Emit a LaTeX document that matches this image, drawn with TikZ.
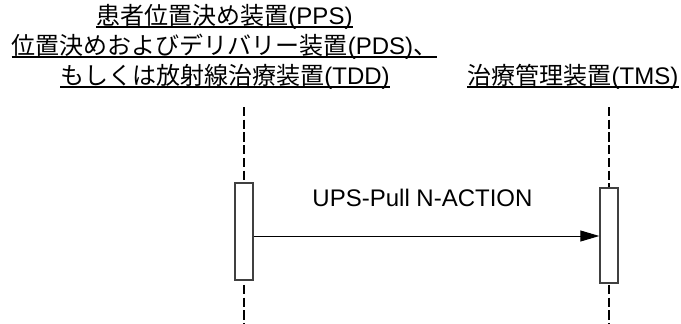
\documentclass[tikz,border=0pt]{standalone}
\usepackage{fontspec}
\setmainfont{Liberation Sans}
\newfontfamily\cjk{Noto Sans CJK JP}
\usetikzlibrary{arrows.meta}
\tikzset{
  hdr/.style={inner sep=0pt, anchor=base, font=\fontsize{24}{30}\selectfont},
  ul/.style={line width=1.6pt},
  lifeline/.style={line width=1.9pt, dash pattern=on 9.3pt off 3.4pt, black},
  actbox/.style={draw=black!75, line width=1.4pt, fill=white, minimum width=18pt, inner sep=0pt},
  msg/.style={line width=1pt, -{Triangle[length=19pt, width=11pt]}},
  lbl/.style={inner sep=0pt, anchor=base, font=\fontsize{24}{28}\selectfont}
}
\begin{document}
\begin{tikzpicture}[x=1pt, y=-1pt]
\useasboundingbox (0,0) rectangle (681,324);
% headers
\node[hdr] (h1) at (224.5,24) {{\cjk 患者位置決め装置}(PPS)};
\node[hdr] (h2) at (224.5,54) {{\cjk 位置決めおよびデリバリー装置}(PDS){\cjk 、}};
\node[hdr] (h3) at (225,84) {{\cjk もしくは放射線治療装置}(TDD)};
\node[hdr] (h4) at (573,84) {{\cjk 治療管理装置}(TMS)};
\foreach \n in {h1,h2,h3,h4}{
  \draw[ul] ([yshift=-3pt]\n.base west) -- ([yshift=-3pt]\n.base east);
}
% lifeline anchors
\coordinate (lt) at (244,107);
\coordinate (lb) at (244,324);
\coordinate (rt) at (609,107);
\coordinate (rb) at (609,324);
\draw[lifeline] (lt) -- (lb);
\draw[lifeline] (rt) -- (rb);
% activation boxes
\node[actbox, minimum height=97pt] (la) at (244,231.5) {};
\node[actbox, minimum height=95pt] (ra) at (609,235.5) {};
% message
\coordinate (ms) at (la.east |- 0,236);
\coordinate (me) at (ra.west |- 0,236);
\draw[msg] (ms) -- (me);
\node[lbl] (m) at (422.5,206) {UPS-Pull N-ACTION};
\end{tikzpicture}
\end{document}
